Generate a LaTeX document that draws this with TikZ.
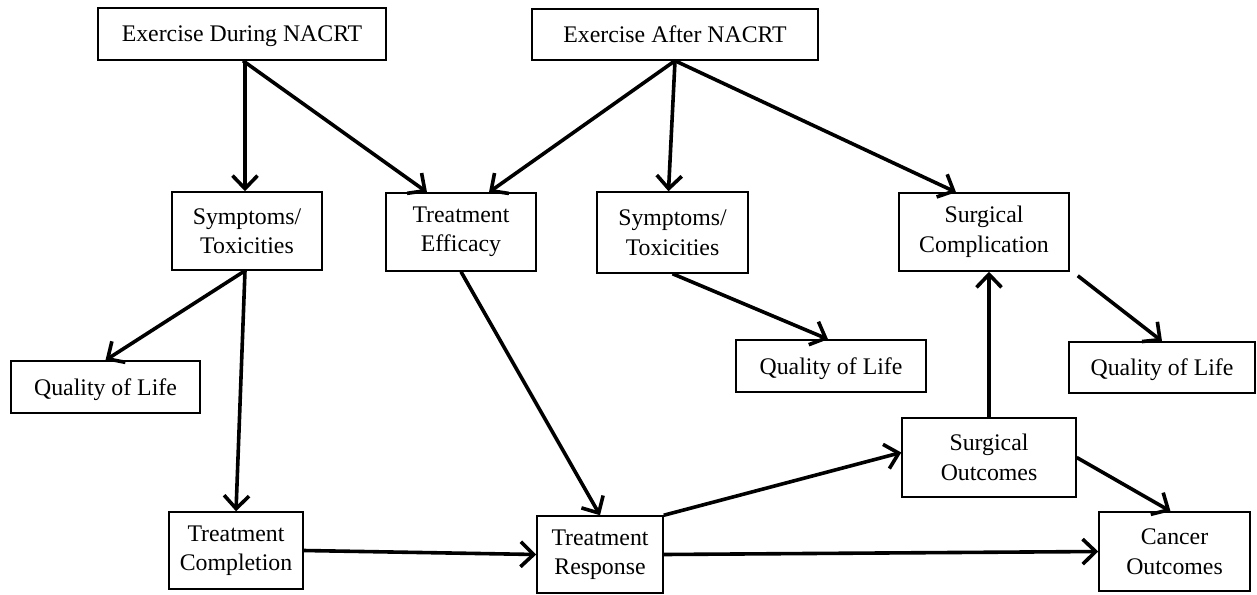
\documentclass[tikz,border=0pt]{standalone}
\usepackage{fontspec}
\setmainfont{Liberation Serif}
\usetikzlibrary{positioning,arrows.meta}

\tikzset{
    box/.style={draw, line width=1.5pt, align=center, inner sep=0pt, font=\fontsize{23.8}{29.5}\selectfont},
    onebox/.style={box, text depth=0pt},
    link/.style={line width=3.6pt, -{Straight Barb[length=13pt,width=25pt,line width=3.6pt]}}
}

\begin{document}
\begin{tikzpicture}[x=1pt, y=-1pt]
    \useasboundingbox (0,0) rectangle (1257,594);

    % Exercise boxes
    \node[onebox, minimum width=288pt, minimum height=52pt] (dur) at (242,34) {Exercise During NACRT};
    \node[onebox, minimum width=286pt, minimum height=51pt] (aft) at (675,34.5) {Exercise After NACRT};

    % Second row
    \node[box, minimum width=150pt, minimum height=78pt] (sym1) at (247,231) {Symptoms/\\Toxicities};
    \node[box, minimum width=150pt, minimum height=78pt] (eff) at (461,232) {Treatment\\Efficacy};
    \node[box, minimum width=151pt, minimum height=81pt] (sym2) at (672.5,232.5) {Symptoms/\\Toxicities};
    \node[box, minimum width=170pt, minimum height=78pt] (comp) at (984,232) {Surgical\\Complication};

    % Quality of life
    \node[onebox, minimum width=189pt, minimum height=52pt] (qol1) at (105.5,387) {Quality of Life};
    \node[onebox, minimum width=190pt, minimum height=52pt] (qol2) at (831,366) {Quality of Life};
    \node[onebox, minimum width=186pt, minimum height=51pt] (qol3) at (1162,367.5) {Quality of Life};

    % Outcomes
    \node[box, minimum width=174pt, minimum height=79pt] (out) at (989,457.5) {Surgical\\Outcomes};
    \node[box, minimum width=134pt, minimum height=77pt] (tcomp) at (236,550.5) {Treatment\\Completion};
    \node[box, minimum width=126pt, minimum height=77pt] (tresp) at (600,554.5) {Treatment\\Response};
    \node[box, minimum width=151pt, minimum height=79pt] (canc) at (1174.5,551.5) {Cancer\\Outcomes};

    % Arrows
    \draw[link] ([xshift=3pt]dur.south) -- ([xshift=-2pt]sym1.north);
    \draw[link] ([xshift=1pt]dur.south) -- ([xshift=-34pt]eff.north);
    \draw[link] (aft.south) -- ([xshift=28pt]eff.north);
    \draw[link] (aft.south) -- ([xshift=-4pt]sym2.north);
    \draw[link] (aft.south) -- ([xshift=-28pt]comp.north);
    \draw[link] ([xshift=-2pt]sym1.south) -- (qol1.north);
    \draw[link] ([xshift=-2pt]sym1.south) -- (tcomp.north);
    \draw[link] (eff.south) -- (tresp.north);
    \draw[link] (sym2.south) -- ([xshift=-3pt]qol2.north);
    \draw[link] ([xshift=8pt,yshift=-4pt]comp.south east) -- (qol3.north);
    \draw[link] (out.north) -- (out.north |- comp.south);
    \draw[link] (tcomp.east) -- (tresp.west);
    \draw[link] (tresp.north east) -- ([yshift=5pt]out.west);
    \draw[link] (tresp.east) -- (canc.west);
    \draw[link] (out.east) -- ([xshift=-4pt]canc.north);
\end{tikzpicture}
\end{document}
